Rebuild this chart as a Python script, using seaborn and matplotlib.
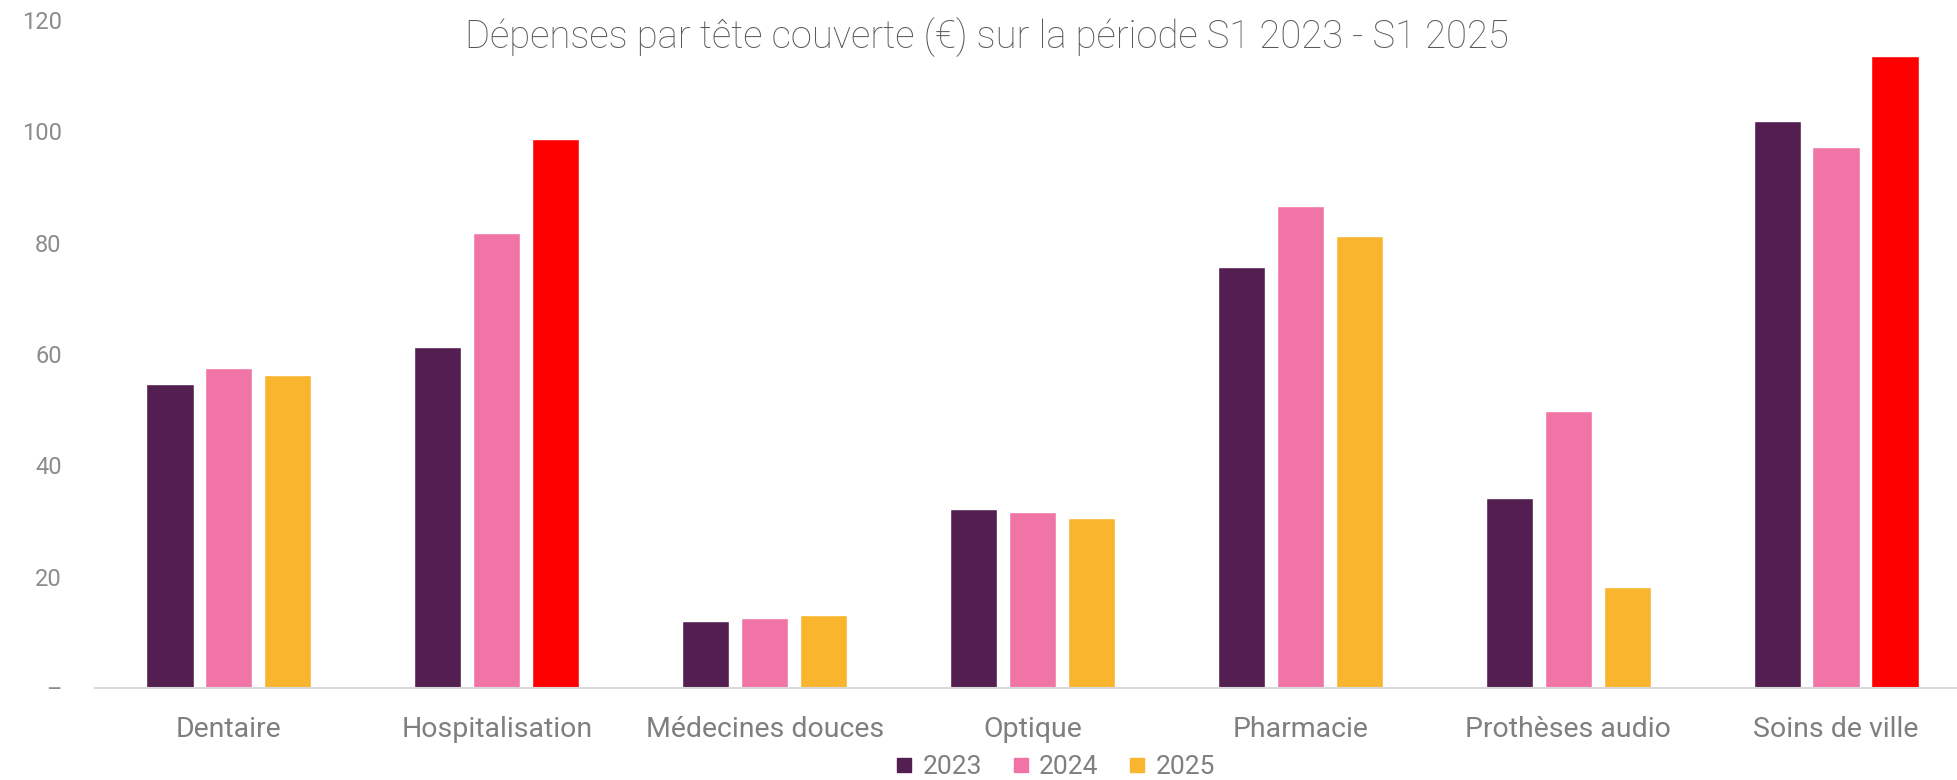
import numpy as np
import pandas as pd
import matplotlib.pyplot as plt
from matplotlib.lines import Line2D
import seaborn as sns

categories = ['Dentaire', 'Hospitalisation', 'Médecines douces', 'Optique',
              'Pharmacie', 'Prothèses audio', 'Soins de ville']
years = ['2023', '2024', '2025']
v2023 = [54.7, 61.2, 12.1, 32.1, 75.6, 34.1, 101.8]
v2024 = [57.4, 81.8, 12.6, 31.6, 86.5, 49.8, 97.1]
v2025 = [56.3, 98.7, 13.2, 30.5, 81.2, 18.2, 113.5]
# 2025 bars shown in red where the category is highlighted
highlight = ['Hospitalisation', 'Soins de ville']

colors = {'2023': '#521F50', '2024': '#F075A6', '2025': '#F9B52E'}
red = '#FF0000'
grey = '#7F7F7F'

df = pd.DataFrame({'Catégorie': categories, '2023': v2023, '2024': v2024, '2025': v2025})
df = df.melt(id_vars='Catégorie', var_name='Année', value_name='Valeur')

sns.set_theme(style='white')
plt.rcParams['font.family'] = ['Roboto', 'DejaVu Sans']

fig = plt.figure(figsize=(19.58, 7.80), dpi=100)
ax = fig.add_axes([95 / 1958, 1 - 688 / 780, (1970 - 95) / 1958, (688 - 20) / 780])

sns.barplot(data=df, x='Catégorie', y='Valeur', hue='Année', order=categories,
            hue_order=years, palette=colors, width=0.66, gap=0.2,
            saturation=1, legend=False, ax=ax)

# recolour highlighted 2025 bars
bars_2025 = ax.containers[2]
for cat, bar in zip(categories, bars_2025):
    if cat in highlight:
        bar.set_facecolor(red)

ax.set_xlim(-0.5, 6.5)
ax.set_ylim(0, 120)
ax.set_yticks(range(0, 121, 20))
ax.set_yticklabels(['–'] + [str(v) for v in range(20, 121, 20)])
ax.set_xlabel('')
ax.set_ylabel('')
for s in ['top', 'right', 'left']:
    ax.spines[s].set_visible(False)
ax.spines['bottom'].set_color('#D9D9D9')
ax.spines['bottom'].set_linewidth(1.5)
ax.tick_params(axis='x', length=0, labelsize=20.5, colors=grey, pad=20)
ax.tick_params(axis='y', length=0, labelsize=17, colors='#8C8C8C', pad=24)
ax.grid(False)

fig.text(0.504, 0.952, 'Dépenses par tête couverte (€) sur la période S1 2023 - S1 2025',
         ha='center', va='center', fontsize=27.5, color='#595959', fontweight='light')

handles = [Line2D([0], [0], marker='s', linestyle='', markersize=10,
                  markerfacecolor=colors[y], markeredgecolor=colors[y]) for y in years]
fig.legend(handles, years, loc='center', bbox_to_anchor=(1055 / 1958, 1 - 767 / 780),
           ncol=3, frameon=False, fontsize=19, labelcolor=grey,
           handlelength=0.7, handletextpad=0.35, columnspacing=1.1)

fig.savefig('out.png', dpi=100)
